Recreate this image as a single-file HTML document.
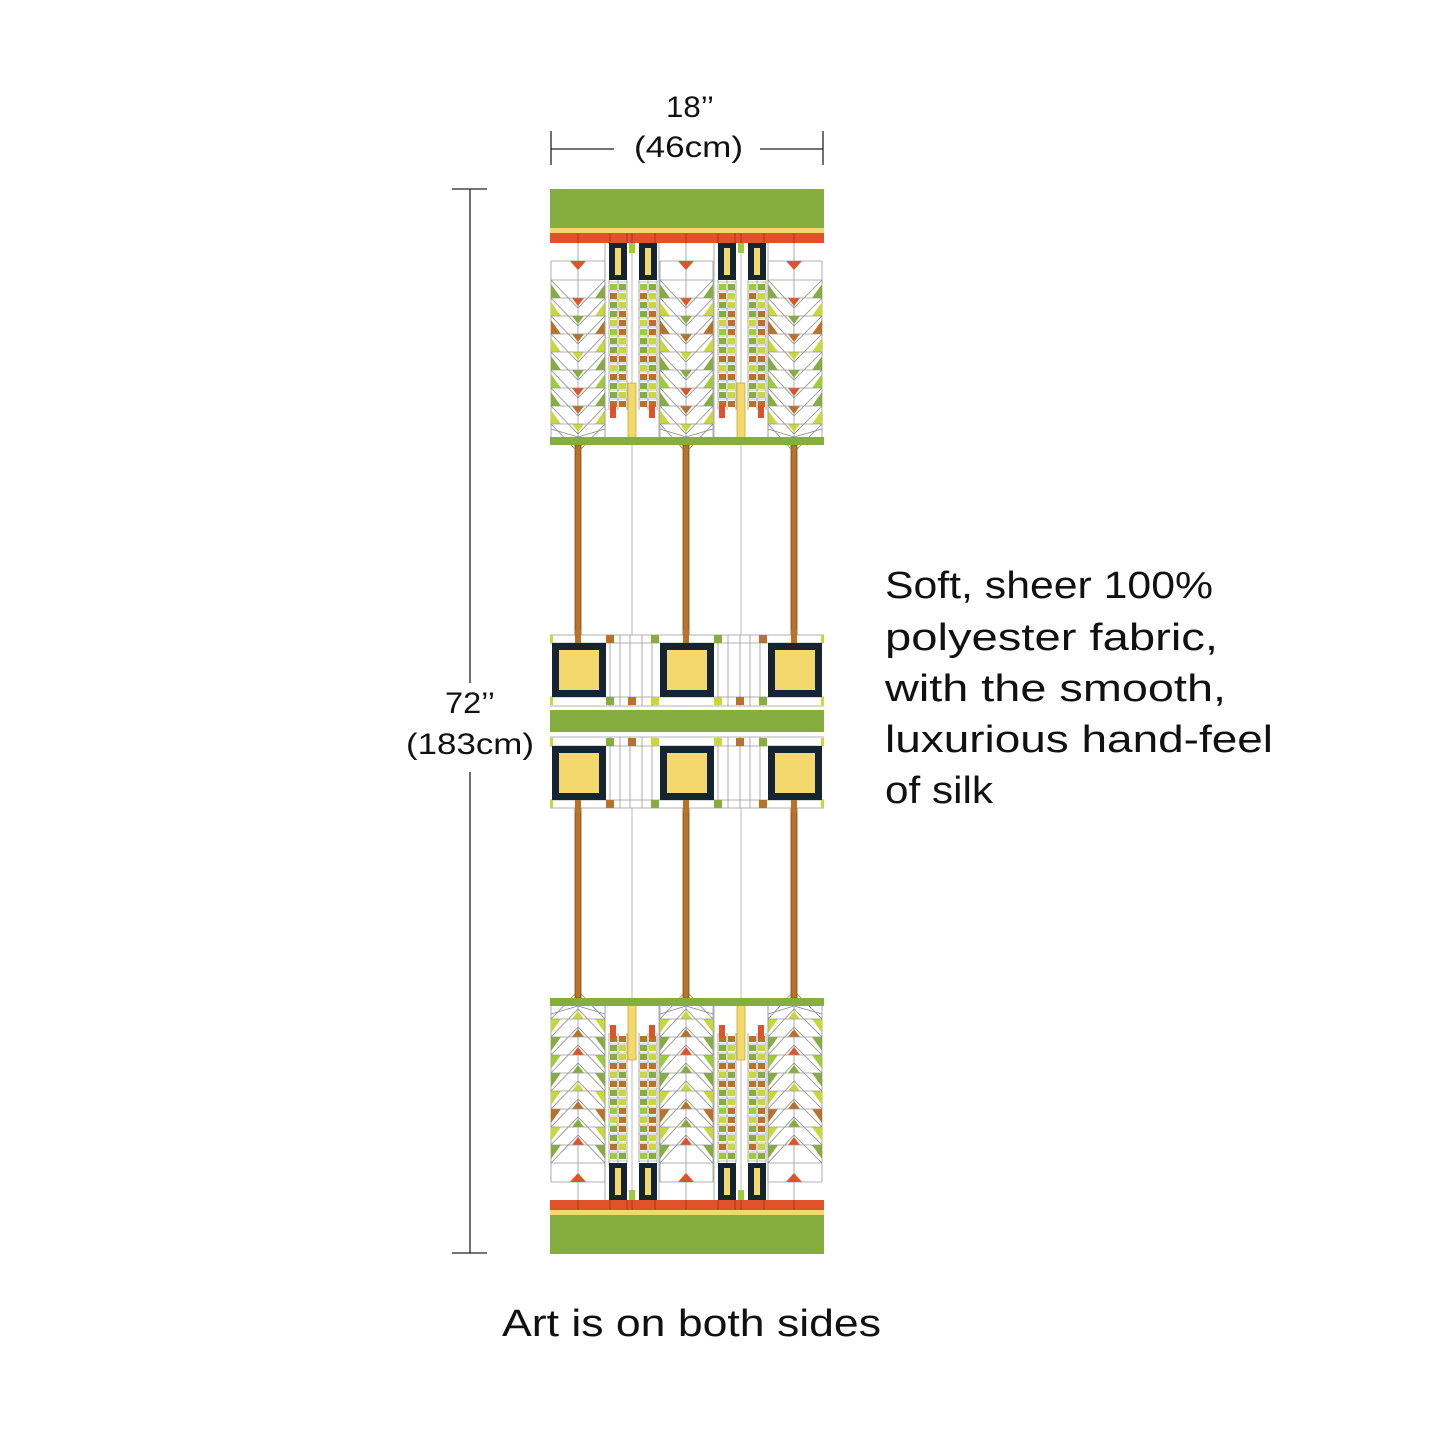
<!DOCTYPE html>
<html><head><meta charset="utf-8"><style>
html,body{margin:0;padding:0;background:#fff;width:1445px;height:1445px;overflow:hidden}
svg{position:absolute;left:0;top:0}
text{font-family:"Liberation Sans","DejaVu Sans",sans-serif;fill:#111}
</style></head><body>
<svg id="s" width="1445" height="1445" viewBox="0 0 1445 1445">
<g stroke="#222" stroke-width="1.3" fill="none">
<line x1="551" y1="131" x2="551" y2="165"/><line x1="823" y1="131" x2="823" y2="165"/>
<line x1="551" y1="149" x2="614" y2="149"/><line x1="760" y1="149" x2="823" y2="149"/>
<line x1="452" y1="189" x2="487" y2="189"/><line x1="452" y1="1253" x2="487" y2="1253"/>
<line x1="470" y1="189" x2="470" y2="683"/><line x1="470" y1="772" x2="470" y2="1253"/>
</g>
<text x="666" y="117" font-size="30" textLength="48" lengthAdjust="spacingAndGlyphs">18’’</text>
<text x="634" y="157" font-size="30" textLength="109" lengthAdjust="spacingAndGlyphs">(46cm)</text>
<text x="445" y="713" font-size="30" textLength="50" lengthAdjust="spacingAndGlyphs">72’’</text>
<text x="406" y="754" font-size="30" textLength="128" lengthAdjust="spacingAndGlyphs">(183cm)</text>
<g font-size="38">
<text x="885" y="598" textLength="328" lengthAdjust="spacingAndGlyphs">Soft, sheer 100%</text>
<text x="885" y="650" textLength="333" lengthAdjust="spacingAndGlyphs">polyester fabric,</text>
<text x="885" y="701" textLength="341" lengthAdjust="spacingAndGlyphs">with the smooth,</text>
<text x="885" y="752" textLength="388" lengthAdjust="spacingAndGlyphs">luxurious hand-feel</text>
<text x="885" y="803" textLength="108" lengthAdjust="spacingAndGlyphs">of silk</text>
</g>
<text x="502" y="1336" font-size="38" textLength="379" lengthAdjust="spacingAndGlyphs">Art is on both sides</text>
<g id="top"></g>
<use href="#top" transform="translate(0,1443) scale(1,-1)"/>
<rect x="550" y="710" width="274" height="22" fill="#86ad3f"/>
</svg>
<script>
var g=document.getElementById('top'),h='';
function R(x,y,w,hh,f,st){h+='<rect x="'+x+'" y="'+y+'" width="'+w+'" height="'+hh+'" fill="'+f+'"'+(st?' stroke="'+st+'" stroke-width="0.8"':'')+'/>';}
function L(a,b,c,d,col,w){h+='<line x1="'+a+'" y1="'+b+'" x2="'+c+'" y2="'+d+'" stroke="'+(col||'#999')+'" stroke-width="'+(w||0.8)+'"/>';}
function P(p,f){h+='<polygon points="'+p+'" fill="'+f+'"/>';}
R(550,189,274,39,'#86ad3f');R(550,228,274,5,'#f3d96b');R(550,233,274,10,'#e0522a');
[578,610,627,632,655,686,718,735,741,764,794].forEach(function(x){L(x,233,x,243,'#8a3a1a')});
var cols=['#e0522a','#86ad3f','#b8722a','#c8d83a','#86ad3f','#e0522a','#b8722a','#c8d83a','#b8722a'];
var edge=['#86ad3f','#c8d83a','#b8722a','#c8d83a','#86ad3f','#9ccc3c','#86ad3f','#c8d83a'];
[[551,578,605],[660,686,713],[768,794,822]].forEach(function(t){
 var a=t[0],c=t[1],b=t[2];
 L(a,261,b,261);L(a,261,a,437);L(b,261,b,437);L(c,243,c,437);
 P((c-8)+',261 '+(c+8)+',261 '+c+',270','#e0522a');
 for(var i=0;i<9;i++){var y=280+i*18;L(a,y,b,y);
  L(a,y,c,y+28,'#888');L(b,y,c,y+28,'#888');
  P((c-6)+','+(y+18)+' '+(c+6)+','+(y+18)+' '+c+','+(y+26),cols[i]);
  if(i<8){P(a+','+(y+4)+' '+a+','+(y+18)+' '+(a+10)+','+(y+18),edge[i]);P(b+','+(y+4)+' '+b+','+(y+18)+' '+(b-10)+','+(y+18),edge[i]);}}
 L(a,437-8,c,437,'#888');L(b,437-8,c,437,'#888');
 P((c-5)+',437 '+(c+5)+',437 '+c+',445','#e0522a');
 R(c-3,445,6,190,'#b8722a','#7a4a1a');
});
var cc=['#86ad3f','#b8722a','#c8d83a','#86ad3f','#b8722a','#9ccc3c','#c8d83a','#86ad3f','#b8722a','#c8d83a','#b8722a','#86ad3f','#c8d83a','#b8722a'];
[632,741].forEach(function(m){
 L(m,243,m,635,'#aaa');L(m-27,243,m-27,437);L(m+27,243,m+27,437);
 R(m-3,243,6,10,'#9ccc3c');
 [[m-23,m-5],[m+7,m+25]].forEach(function(p){
  R(p[0],243,18,37,'#142433');R(p[0]+6,248,6,27,'#f3d96b');
  L(p[0],280,p[0],410);L(p[1],280,p[1],410);L(p[0]+9,280,p[0]+9,410);
  for(var i=0;i<14;i++){var y=284+i*9;L(p[0],y-2,p[1],y-2,'#aaa');
   R(p[0]+(i%2?1:10),y,7,6,cc[i]);R(p[0]+(i%2?10:1),y,7,6,cc[(i+5)%14]);}
  R(p[0]+(m<p[0]?10:1),405,6,13,'#e0522a');
 });
 R(m-4,383,8,59,'#f3d96b','#c9a93a');
});
R(550,437,274,8,'#86ad3f');
L(550,635,824,635);L(550,643,824,643);L(550,697,824,697);L(550,706,824,706);
[610,620,630,642,652,718,728,740,750,760].forEach(function(x){L(x,635,x,706)});
R(550,635,3,8,'#c8d83a');R(821,635,3,8,'#c8d83a');R(550,697,3,8,'#c8d83a');R(821,697,3,8,'#c8d83a');
[[606,635,'#b8722a'],[651,635,'#86ad3f'],[714,635,'#86ad3f'],[759,635,'#b8722a'],
 [606,697,'#86ad3f'],[628,697,'#b8722a'],[651,697,'#c8d83a'],[714,697,'#c8d83a'],[736,697,'#b8722a'],[759,697,'#86ad3f']].forEach(function(q){R(q[0],q[1],8,8,q[2])});
[552,660,768].forEach(function(x){R(x,643,54,54,'#142433');R(x+7,650,40,40,'#f3d96b')});
[578,686,794].forEach(function(c){R(c-3,630,6,13,'#b8722a')});
g.innerHTML=h;
</script>
</body></html>
